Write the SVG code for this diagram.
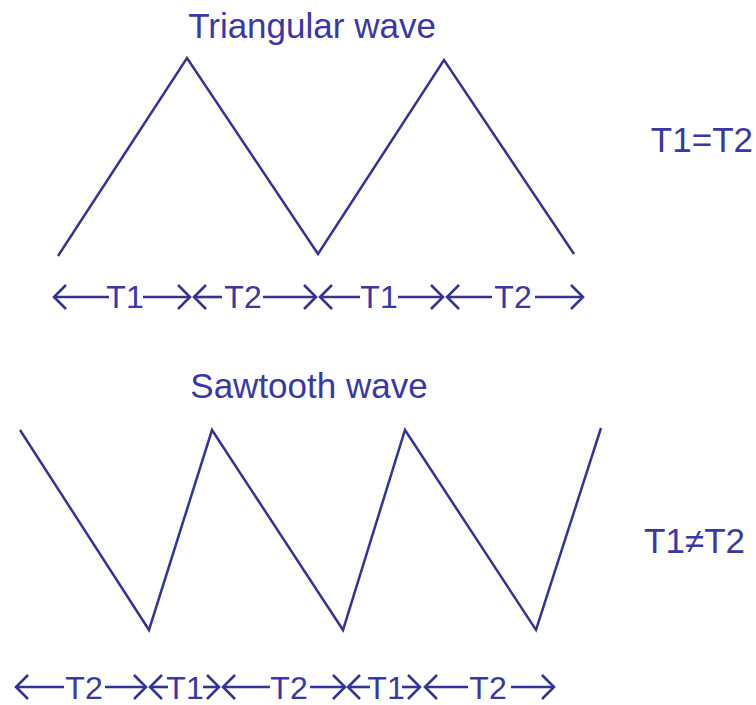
<svg xmlns="http://www.w3.org/2000/svg" width="756" height="705" viewBox="0 0 756 705">
<style>
.wave{fill:none;stroke:#333399;stroke-width:2.5;stroke-linejoin:miter}
.dim{fill:none;stroke:#333399;stroke-width:2.6;marker-end:url(#ah)}
.t{font-family:"Liberation Sans",Arial,sans-serif;font-size:35px;fill:#3a37a6}
.lbl{font-family:"Liberation Sans",Arial,sans-serif;font-size:32px;fill:#3a37a6;text-anchor:middle}
</style>
<defs>
<marker id="ah" markerUnits="userSpaceOnUse" markerWidth="20" markerHeight="30" refX="13" refY="12" orient="auto" overflow="visible">
<path d="M1,0 L13,12 L1,24" fill="none" stroke="#333399" stroke-width="2.6"/>
</marker>
</defs>
<rect width="756" height="705" fill="#ffffff"/>
<g id="triangular">
<text class="t" x="312" y="38" text-anchor="middle">Triangular wave</text>
<polyline class="wave" points="58,256 187,58 318,254 444,60 574,254"/>
<text class="t" x="753" y="152" text-anchor="end">T1=T2</text>
</g>
<g id="sawtooth">
<text class="t" x="309" y="398" text-anchor="middle">Sawtooth wave</text>
<polyline class="wave" points="20,430 149,630 212,430 343,630 405,430 536,630 601,428"/>
<text class="t" x="745" y="553" text-anchor="end">T1≠T2</text>
</g>
<g id="connectors">
<line class="dim" x1="109" y1="297" x2="54" y2="297"/>
<line class="dim" x1="143" y1="297" x2="190" y2="297"/>
<line class="dim" x1="222" y1="297" x2="194" y2="297"/>
<line class="dim" x1="263" y1="297" x2="316" y2="297"/>
<line class="dim" x1="360" y1="297" x2="320" y2="297"/>
<line class="dim" x1="398" y1="297" x2="443" y2="297"/>
<line class="dim" x1="492" y1="297" x2="447" y2="297"/>
<line class="dim" x1="535" y1="297" x2="583" y2="297"/>

<line class="dim" x1="64" y1="687" x2="16" y2="687"/>
<line class="dim" x1="105" y1="687" x2="146" y2="687"/>
<line class="dim" x1="168" y1="687" x2="150" y2="687"/>
<line class="dim" x1="203" y1="687" x2="219" y2="687"/>
<line class="dim" x1="270" y1="687" x2="223" y2="687"/>
<line class="dim" x1="310" y1="687" x2="345" y2="687"/>
<line class="dim" x1="370" y1="687" x2="348" y2="687"/>
<line class="dim" x1="402" y1="687" x2="420" y2="687"/>
<line class="dim" x1="468" y1="687" x2="425" y2="687"/>
<line class="dim" x1="511" y1="687" x2="554" y2="687"/>
</g>
<g id="labels">
<text class="lbl" x="125" y="308">T1</text>
<text class="lbl" x="243" y="308">T2</text>
<text class="lbl" x="379" y="308">T1</text>
<text class="lbl" x="513" y="308">T2</text>
<text class="lbl" x="84" y="699">T2</text>
<text class="lbl" x="185" y="699">T1</text>
<text class="lbl" x="289" y="699">T2</text>
<text class="lbl" x="386" y="699">T1</text>
<text class="lbl" x="488" y="699">T2</text>
</g>
</svg>
